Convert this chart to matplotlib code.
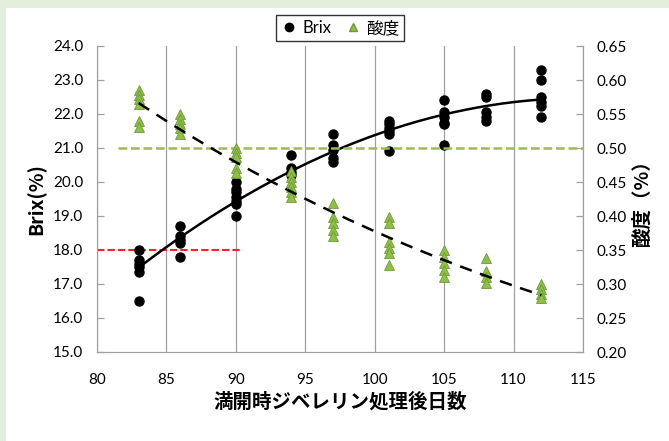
import numpy as np
import matplotlib.pyplot as plt
from matplotlib.patches import Rectangle
from matplotlib.lines import Line2D

# days after GA treatment at full bloom
days = [83, 86, 90, 94, 97, 101, 105, 108, 112]

brix = {
    83: [18.0, 17.7, 17.6, 17.5, 17.35, 16.5],
    86: [18.7, 18.4, 18.3, 18.2, 17.8],
    90: [20.0, 19.8, 19.7, 19.55, 19.45, 19.35, 19.0],
    94: [20.8, 20.4, 20.3, 20.2],
    97: [21.4, 21.1, 20.95, 20.7, 20.6],
    101: [21.8, 21.7, 21.6, 21.5, 21.4, 20.9],
    105: [22.4, 22.05, 21.9, 21.75, 21.7, 21.1],
    108: [22.6, 22.5, 22.05, 21.9, 21.8],
    112: [23.3, 23.0, 22.5, 22.35, 22.25, 21.9],
}

acid = {
    83: [0.585, 0.578, 0.572, 0.565, 0.540, 0.531],
    86: [0.550, 0.543, 0.536, 0.529, 0.520],
    90: [0.500, 0.493, 0.487, 0.471, 0.463],
    94: [0.466, 0.457, 0.450, 0.443, 0.435, 0.428],
    97: [0.419, 0.399, 0.390, 0.380, 0.370],
    101: [0.399, 0.390, 0.362, 0.353, 0.346, 0.328],
    105: [0.350, 0.340, 0.331, 0.321, 0.311],
    108: [0.338, 0.319, 0.310, 0.302],
    112: [0.300, 0.292, 0.285, 0.280],
}

brix_ref = 18.0
acid_ref = 0.50

green = "#8fbf4a"
green_edge = "#6f9a36"

plt.rcParams['font.family'] = ['Lato', 'Noto Sans CJK JP', 'DejaVu Sans']

fig = plt.figure(figsize=(6.69, 4.41), dpi=100)
fig.patch.set_facecolor("#e3efdb")
bg = Rectangle((6/669, 0), 1, 1 - 8/441, transform=fig.transFigure,
               facecolor="white", edgecolor="none", zorder=-10)
fig.patches.append(bg)

ax = fig.add_axes([97/669, 1 - 352/441, 486/669, 306/441])
ax2 = ax.twinx()

bx = np.concatenate([[d]*len(brix[d]) for d in days])
by = np.concatenate([brix[d] for d in days])
ax.plot(bx, by, "o", color="black", markersize=6.5, zorder=4)

ax_x = np.concatenate([[d]*len(acid[d]) for d in days])
ay = np.concatenate([acid[d] for d in days])
ax2.plot(ax_x, ay, "^", color=green, markeredgecolor=green_edge, markeredgewidth=0.6,
         markersize=7, zorder=3)

# trend lines
xs = np.linspace(83, 112, 200)
pb = np.polyfit(bx, by, 2)
ax.plot(xs, np.polyval(pb, xs), color="black", lw=1.8, zorder=5)
pa = np.polyfit(ax_x, np.log(ay), 1)
ax2.plot(xs, np.exp(np.polyval(pa, xs)), color="black", lw=1.8, ls=(0, (5, 3.5)), zorder=5)

ax.plot([80, 90.5], [brix_ref, brix_ref], color="#ff2020", lw=1.5, ls=(0, (3.5, 1.5)), zorder=3)
ax2.plot([81.5, 115], [acid_ref, acid_ref], color="#9bbb59", lw=1.8, ls=(0, (3.5, 1.5)), zorder=2)

ax.set_xlim(80, 115)
ax.set_ylim(15, 24)
ax2.set_ylim(0.20, 0.65)
ax.set_xticks(range(80, 116, 5))
ax.set_yticks(np.arange(15, 24.01, 1.0))
ax.set_yticklabels([f"{v:.1f}" for v in np.arange(15, 24.01, 1.0)])
ax2.set_yticks(np.arange(0.20, 0.651, 0.05))
ax2.set_yticklabels([f"{v:.2f}" for v in np.arange(0.20, 0.651, 0.05)])

ax.grid(axis="x", color="#a0a0a0", lw=0.9)
ax.set_axisbelow(True)
for a in (ax, ax2):
    for s in a.spines.values():
        s.set_color("#a0a0a0")
    a.spines["top"].set_visible(False)
    a.tick_params(colors="black", labelsize=11, length=5, direction="in", width=0.9)
    a.tick_params(axis="both", color="#a0a0a0")
ax.tick_params(axis="x", length=0, pad=15)
ax.tick_params(axis="y", pad=10)
ax2.tick_params(axis="y", pad=10)

ax.set_xlabel("満開時ジベレリン処理後日数", fontsize=14, fontweight="bold",
              family="Noto Sans CJK JP", labelpad=4)
ax.set_ylabel("Brix(%)", fontsize=14, fontweight="bold", family="Noto Sans CJK JP", labelpad=5)
ax2.set_ylabel("酸度（%）", fontsize=14, fontweight="bold", family="Noto Sans CJK JP", labelpad=4)

handles = [Line2D([], [], marker="o", color="black", ls="none", markersize=6),
           Line2D([], [], marker="^", color=green, markeredgecolor=green_edge, ls="none", markersize=6)]
leg = fig.legend(handles, ["Brix", "酸度"], loc="center", bbox_to_anchor=(340/669, 1 - 28/441),
                 ncol=2, frameon=True, fancybox=False, handletextpad=0.3, columnspacing=0.8,
                 handlelength=1.0, borderpad=0.3, prop={"family": ["Lato", "Noto Sans CJK JP"], "size": 12})
leg.get_frame().set_edgecolor("black")
leg.get_frame().set_linewidth(1.0)

fig.savefig("out.png", dpi=100)
